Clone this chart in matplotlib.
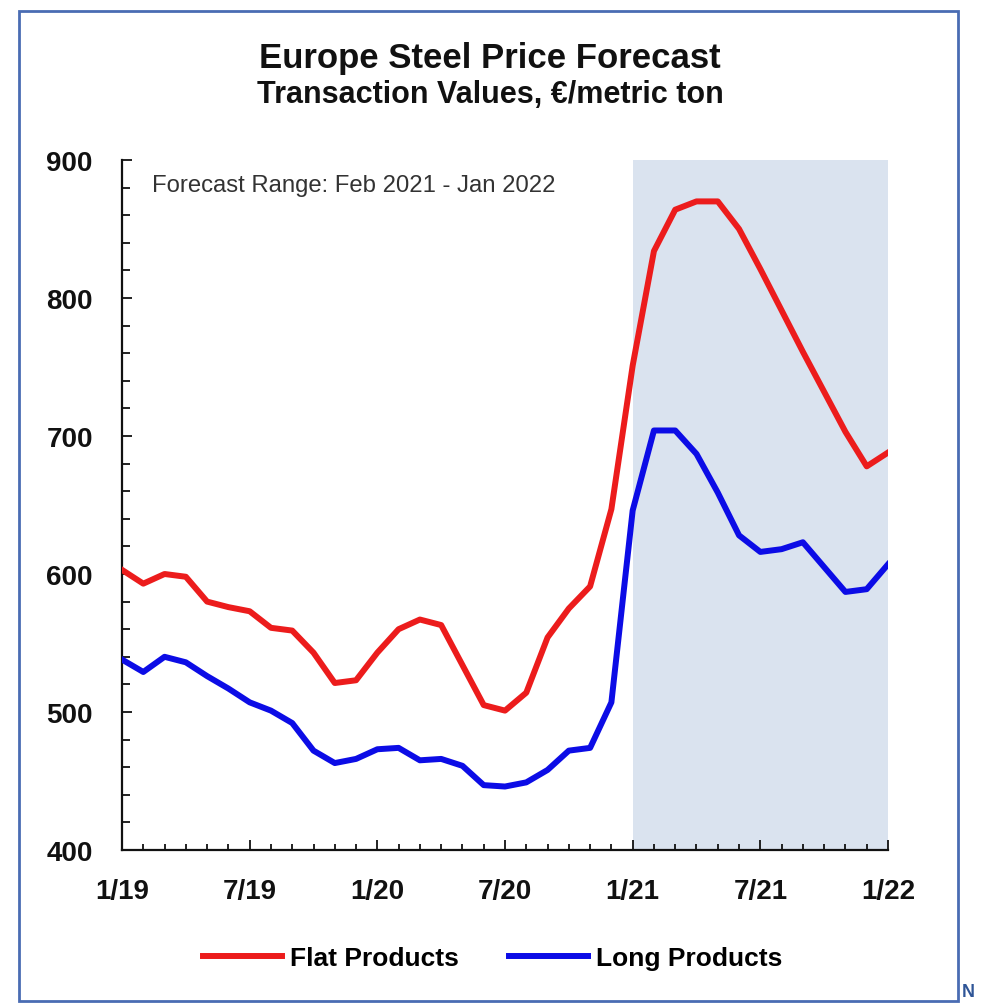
import matplotlib
matplotlib.use("Agg")
import matplotlib.pyplot as plt
from matplotlib.patches import Rectangle
from matplotlib.ticker import MultipleLocator

# monthly data, Jan 2019 .. Jan 2022 (index 0 = 1/19)
months = list(range(37))
flat_products = [603, 593, 600, 598, 580, 576, 573, 561, 559, 543, 521, 523,
                 543, 560, 567, 563, 534, 505, 501, 514, 554, 575, 591, 647,
                 751, 834, 864, 870, 870, 850, 821, 791, 761, 732, 703, 678,
                 688]
long_products = [538, 529, 540, 536, 526, 517, 507, 501, 492, 472, 463, 466,
                 473, 474, 465, 466, 461, 447, 446, 449, 458, 472, 474, 507,
                 646, 704, 704, 687, 659, 628, 616, 618, 623, 605, 587, 589,
                 607]
tick_months = [0, 6, 12, 18, 24, 30, 36]
tick_labels = ["1/19", "7/19", "1/20", "7/20", "1/21", "7/21", "1/22"]
forecast_start, forecast_end = 24, 36

plt.rcParams['font.family'] = ['Liberation Sans', 'DejaVu Sans']

W, H = 984, 1004
fig = plt.figure(figsize=(W / 100, H / 100), dpi=100)
ax = fig.add_axes([122 / W, 1 - 851 / H, (888 - 122) / W, 690 / H])

ax.axvspan(forecast_start, forecast_end, color="#dae3ef", lw=0, zorder=0)
ax.plot(months, flat_products, color="#ec1c1c", lw=4.3, label="Flat Products",
        solid_joinstyle="round", zorder=3)
ax.plot(months, long_products, color="#0c0ce6", lw=4.3, label="Long Products",
        solid_joinstyle="round", zorder=3)

ax.set_xlim(0, 36)
ax.set_ylim(400, 900)
ax.set_xticks(tick_months)
ax.set_xticklabels(tick_labels)
ax.xaxis.set_minor_locator(MultipleLocator(1))
ax.set_yticks([400, 500, 600, 700, 800, 900])
ax.yaxis.set_minor_locator(MultipleLocator(20))

for s in ["top", "right"]:
    ax.spines[s].set_visible(False)
for s in ["left", "bottom"]:
    ax.spines[s].set_linewidth(1.6)
    ax.spines[s].set_color("#111111")

ax.tick_params(axis="both", which="both", direction="in", color="#111111",
               width=1.3)
ax.tick_params(axis="x", which="major", length=7, pad=20, labelsize=20)
ax.tick_params(axis="x", which="minor", length=4)
ax.tick_params(axis="y", which="major", length=7, pad=21, labelsize=20)
ax.tick_params(axis="y", which="minor", length=6)
for lab in ax.get_xticklabels() + ax.get_yticklabels():
    lab.set_fontweight("bold")
    lab.set_color("#111111")

fig.text(152 / W, 1 - 186 / H, "Forecast Range: Feb 2021 - Jan 2022",
         fontsize=17.2, color="#333333", va="center", ha="left")

fig.text(490 / W, 1 - 68 / H, "Europe Steel Price Forecast",
         ha="center", va="baseline", fontsize=25, fontweight="bold",
         color="#111111")
fig.text(490 / W, 1 - 103 / H, "Transaction Values, €/metric ton",
         ha="center", va="baseline", fontsize=22, fontweight="bold",
         color="#111111")

fig.legend(loc="center", bbox_to_anchor=(493 / W, 1 - 959 / H), ncol=2,
           frameon=False, handlelength=3.0, handletextpad=0.3,
           columnspacing=1.9, prop={"weight": "bold", "size": 19})

# outer frame
fig.patches.append(Rectangle((19 / W, 2 / H), (958 - 19) / W, (1002 - 12) / H,
                             transform=fig.transFigure, fill=False,
                             edgecolor="#4a6cb3", lw=2))
fig.text(962 / W, 1 - 984 / H, "N", ha="left", va="top", fontsize=13,
         fontweight="bold", color="#2f5597")

fig.savefig("out.png", dpi=100)
